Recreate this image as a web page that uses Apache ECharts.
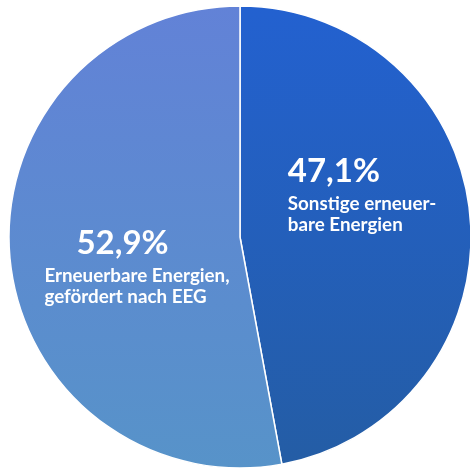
<!DOCTYPE html>
<html><head><meta charset="utf-8">
<script src="https://cdn.jsdelivr.net/npm/echarts@6/dist/echarts.min.js"></script>
<style>html,body{margin:0;padding:0;background:#fff}#c{width:470px;height:468px}</style>
</head><body><div id="c"></div>
<script>
const categories = ['Sonstige erneuer-\nbare Energien', 'Erneuerbare Energien,\ngefördert nach EEG'];
const values = [47.1, 52.9];
const valueLabels = ['47,1%', '52,9%'];

const gradients = [
  ['#2361d0', '#245da5'],
  ['#6282d7', '#5793c9']
];
const labelOffsets = [[4, -34], [15, 17]];
const pctPad = [[0, 0, 0, 0], [0, 0, 0, 32]];

const chart = echarts.init(document.getElementById('c'));
chart.setOption({
  animation: false,
  series: [{
    type: 'pie',
    center: [240, 237],
    radius: [0, 231],
    startAngle: 90,
    clockwise: true,
    label: { show: true, position: 'inside' },
    labelLine: { show: false },
    itemStyle: { borderColor: '#fff', borderWidth: 1.5 },
    data: values.map((v, i) => ({
      value: v,
      name: categories[i],
      itemStyle: {
        color: new echarts.graphic.LinearGradient(0, 0, 0, 1, [
          { offset: 0, color: gradients[i][0] },
          { offset: 1, color: gradients[i][1] }
        ])
      },
      label: {
        formatter: '{p|' + valueLabels[i] + '}\n{t|' + categories[i].split('\n').join('}\n{t|') + '}',
        align: 'left',
        verticalAlign: 'middle',
        rich: {
          p: { fontFamily: 'Lato', fontWeight: 'bold', fontSize: 33, color: '#fff', lineHeight: 44, padding: pctPad[i], align: 'left' },
          t: { fontFamily: 'Lato', fontWeight: 'bold', fontSize: 18.8, color: '#fff', lineHeight: 21, align: 'left' }
        }
      }
    })),
    labelLayout: function (params) {
      const o = labelOffsets[params.dataIndex];
      return { dx: o[0], dy: o[1] };
    }
  }]
});
</script></body></html>
